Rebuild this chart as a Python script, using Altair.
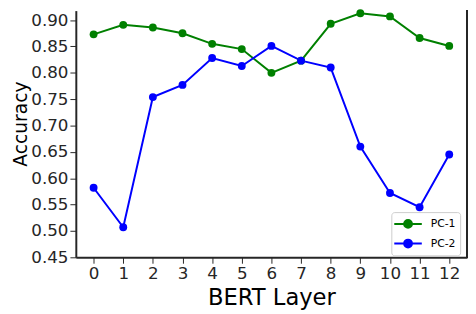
import altair as alt
import pandas as pd

layers = list(range(13))
pc1 = [0.873, 0.891, 0.886, 0.875, 0.855, 0.845, 0.800, 0.823, 0.893, 0.913, 0.907, 0.866, 0.851]
pc2 = [0.582, 0.507, 0.754, 0.777, 0.828, 0.813, 0.851, 0.823, 0.810, 0.660, 0.572, 0.545, 0.645]
series_names = ["PC-1", "PC-2"]
series_colors = ["#008000", "#0000ff"]
y_ticks = [0.45, 0.50, 0.55, 0.60, 0.65, 0.70, 0.75, 0.80, 0.85, 0.90]

rows = []
for name, vals in zip(series_names, [pc1, pc2]):
    for l, v in zip(layers, vals):
        rows.append({"layer": l, "acc": v, "series": name})
df = pd.DataFrame(rows)

FONT = "DejaVu Sans"
W, H = 398, 251

legend_path = "M-2,0L2,0M0.57,0A0.57,0.57,0,1,1,-0.57,0A0.57,0.57,0,1,1,0.57,0Z"

lines = alt.Chart(df).mark_line(
    strokeWidth=2,
    point=alt.OverlayMarkDef(filled=True, size=64, opacity=1),
).encode(
    x=alt.X("layer:Q",
            scale=alt.Scale(domain=[-0.6, 12.6], nice=False, zero=False),
            axis=alt.Axis(values=layers, title="BERT Layer", grid=False,
                          labelFontSize=17, titleFontSize=23, titleFontWeight="normal",
                          tickSize=6, labelPadding=3, titleBaseline="alphabetic",
                          titleY=48)),
    y=alt.Y("acc:Q",
            scale=alt.Scale(domain=[0.45, 0.918], nice=False, zero=False),
            axis=alt.Axis(values=y_ticks, format=".2f", title="Accuracy", grid=False,
                          labelFontSize=17, titleFontSize=19, titleFontWeight="normal",
                          tickSize=6, labelPadding=2, titleX=-56, titleY=115,
                          titleBaseline="middle", titleAlign="center")),
    color=alt.Color("series:N",
                    scale=alt.Scale(domain=series_names, range=series_colors),
                    legend=alt.Legend(title=None, orient="none", legendX=321, legendY=205,
                                      symbolType=legend_path, symbolSize=196,
                                      symbolStrokeWidth=2, symbolOffset=5,
                                      labelOffset=15, labelFontSize=11, rowPadding=4,
                                      padding=4, strokeColor="#cccccc", fillColor="white",
                                      cornerRadius=3)),
)

right_spine = alt.Chart(df).mark_rule(color="#262626", strokeWidth=2).encode(
    x=alt.value(W), y=alt.value(0), y2=alt.value(H)
)

chart = alt.layer(lines, right_spine).properties(
    width=W, height=H,
    autosize=alt.AutoSizeParams(type="none"),
    padding={"left": 69, "top": 0, "right": 1, "bottom": 54},
).configure_view(stroke=None).configure_axis(
    domainColor="#262626", domainWidth=2, tickColor="#262626",
    labelColor="#262626", titleColor="#000000", labelFont=FONT, titleFont=FONT,
).configure_legend(labelFont=FONT, labelColor="#000000")

chart.save("out.html", embed_options={"renderer": "svg", "actions": False})
